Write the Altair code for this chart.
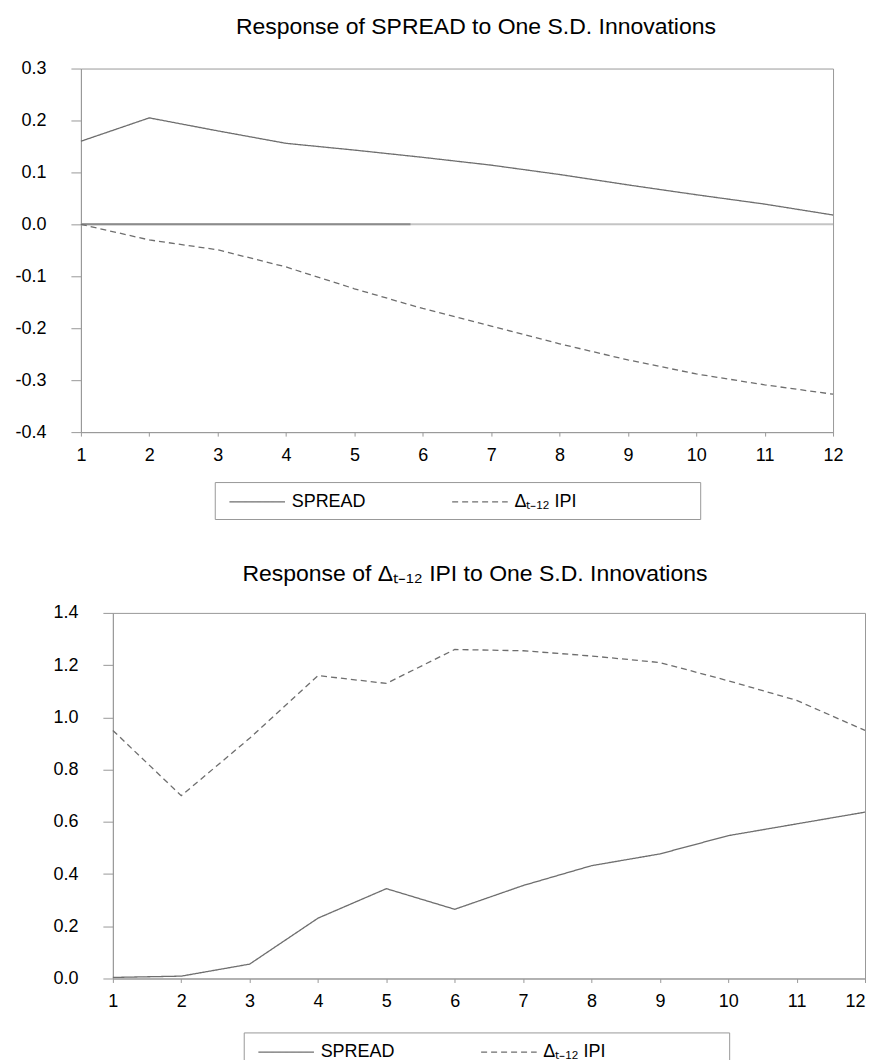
import altair as alt
import pandas as pd

# ---------------- data ----------------
steps = list(range(1, 13))
series = ["SPREAD", "Δₜ₋₁₂ IPI"]

top_spread = [0.160, 0.205, 0.180, 0.156, 0.143, 0.129, 0.114, 0.096, 0.076, 0.057, 0.039, 0.018]
top_ipi = [0.000, -0.030, -0.049, -0.082, -0.124, -0.162, -0.196, -0.230, -0.261, -0.288, -0.309, -0.327]
top_yticks = [-0.4, -0.3, -0.2, -0.1, 0.0, 0.1, 0.2, 0.3]

bot_spread = [0.004, 0.009, 0.055, 0.231, 0.344, 0.265, 0.356, 0.432, 0.477, 0.547, 0.592, 0.637]
bot_ipi = [0.95, 0.70, 0.92, 1.16, 1.13, 1.26, 1.255, 1.235, 1.21, 1.14, 1.065, 0.95]
bot_yticks = [0.0, 0.2, 0.4, 0.6, 0.8, 1.0, 1.2, 1.4]

zero_x = [1, 12]
zero_dark_x = [1, 5.82]

top_title = "Response of SPREAD to One S.D. Innovations"
bot_title = "Response of Δₜ₋₁₂ IPI to One S.D. Innovations"

FONT = "Liberation Sans"
LINE = "#6e6e6e"
FRAME = "#999999"


def spacer(w):
    return alt.Chart(pd.DataFrame({"v": [0]})).mark_point(size=1, opacity=0).encode(
        x=alt.value(0), y=alt.value(0)
    ).properties(width=w, height=1, view=alt.ViewBackground(stroke="transparent"))


def panel(spread, ipi, title, ymin, ymax, yticks, title_dx, title_offset,
          h, legend_x, legend_y, with_zero, last_label_right):
    df = pd.DataFrame({
        "step": steps * 2,
        "value": spread + ipi,
        "series": [series[0]] * len(steps) + [series[1]] * len(steps),
    })
    xaxis_kw = dict(values=steps, title=None, grid=False, tickSize=4,
                    labelPadding=10, labelFontSize=18, labelFont=FONT,
                    labelColor="black", domainColor=FRAME, tickColor=FRAME,
                    labelFlush=False, labelOverlap=False)
    if last_label_right:
        xaxis_kw["labelAlign"] = {"expr": "datum.value == 12 ? 'right' : 'center'"}
    x = alt.X("step:Q", scale=alt.Scale(domain=[1, 12], nice=False, zero=False),
              axis=alt.Axis(**xaxis_kw))
    y = alt.Y("value:Q",
              scale=alt.Scale(domain=[ymin, ymax], nice=False, zero=False),
              axis=alt.Axis(values=yticks, format=".1f", title=None, grid=False,
                            tickSize=10, labelPadding=25, labelFontSize=18,
                            labelFont=FONT, labelColor="black", domainColor=FRAME,
                            tickColor=FRAME, minExtent=70,
                            labelExpr="replace(datum.label, '\u2212', '-')"))
    pad = "\u00a0" * 23 + "\u200b"
    lines = alt.Chart(df).mark_line(color=LINE, strokeWidth=1.3).encode(
        x=x, y=y,
        strokeDash=alt.StrokeDash(
            "series:N",
            scale=alt.Scale(domain=series, range=[[1, 0], [6, 4]]),
            sort=series,
            legend=alt.Legend(title=None, orient="none", legendX=legend_x, legendY=legend_y,
                              direction="horizontal", symbolType="M-2.65,0H2.65",
                              symbolSize=441, symbolStrokeWidth=1.3,
                              symbolStrokeColor=LINE, symbolFillColor="transparent",
                              labelFontSize=18, labelFont=FONT, labelColor="black",
                              symbolOffset=23, labelOffset=23, columnPadding=79,
                              padding=8, strokeColor=FRAME, labelLimit=400,
                              labelExpr="datum.label == 'SPREAD' ? datum.label : datum.label + '" + pad + "'")),
    )
    layers = []
    if with_zero:
        z = pd.DataFrame({"step": [zero_x[0]], "step2": [zero_x[1]], "value": [0.0]})
        zd = pd.DataFrame({"step": [zero_dark_x[0]], "step2": [zero_dark_x[1]], "value": [0.0]})
        layers.append(alt.Chart(z).mark_rule(color="#c4c4c4", strokeWidth=2).encode(
            x=x, x2="step2:Q", y=y))
        layers.append(alt.Chart(zd).mark_rule(color="#8c8c8c", strokeWidth=2).encode(
            x=x, x2="step2:Q", y=y))
    layers.append(lines)
    return alt.layer(*layers).properties(
        width=753, height=h,
        title=alt.Title(title, fontSize=23, font=FONT, fontWeight="normal",
                        color="black", offset=title_offset, dx=title_dx, anchor="middle"),
    )


top = panel(top_spread, top_ipi, top_title, -0.4, 0.3, top_yticks, 19, 21,
            364, 207, 414, True, False)
bot = panel(bot_spread, bot_ipi, bot_title, 0.0, 1.4, bot_yticks, -14, 18,
            366, 236, 420, False, True)

row_top = alt.hconcat(spacer(1), top, spacing=0)
row_bot = alt.hconcat(spacer(33), bot, spacing=0)

chart = alt.vconcat(row_top, row_bot, spacing=42).resolve_scale(
    strokeDash="independent"
).properties(
    padding={"left": 7, "top": 14, "right": 0, "bottom": -8},
    background="white",
).configure_view(stroke=FRAME, strokeWidth=1)

chart.save("out.html", embed_options={"renderer": "svg", "actions": False})
